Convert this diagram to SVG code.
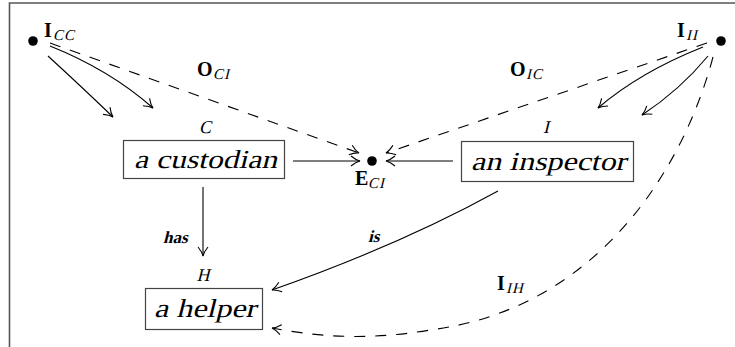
<svg xmlns="http://www.w3.org/2000/svg" width="735" height="347" viewBox="0 0 735 347">
<defs>
<marker id="arr" markerUnits="userSpaceOnUse" markerWidth="20" markerHeight="20" viewBox="-10 -10 20 20" refX="0" refY="0" orient="auto">
<path d="M-9,-5 C-6,-2.5 -2.5,-0.6 0,0 C-2.5,0.6 -6,2.5 -9,5" fill="none" stroke="#000" stroke-width="1.1"/>
</marker>
</defs>
<style>
text{font-family:"Liberation Serif","DejaVu Serif",serif;fill:#000;font-style:normal}
.frame{stroke:#555;stroke-width:1.6;fill:none}
.box{fill:#fff;stroke:#444;stroke-width:1.2}
.bt{font-size:26px}
.lab{font-size:18px}
.bold{font-weight:bold;font-size:20px}
.sub{font-size:15px;letter-spacing:1px}
.bi{font-weight:bold;font-size:17px}
.c{fill:none;stroke:#000;stroke-width:1.1;marker-end:url(#arr)}
.d{stroke-dasharray:11 10}
</style>
<path class="frame" d="M9.5,347 V3 H735"/>
<g id="connectors">
<path class="c" d="M48,56 Q85,90 113,117"/>
<path class="c" d="M50,46 Q110,70 153,108"/>
<path class="c d" d="M50,43 L359,153"/>
<path class="c" d="M293,161 L360,161"/>
<path class="c" d="M453,161 L386,161"/>
<path class="c d" d="M707,43 L386,153"/>
<path class="c" d="M703,47 Q640,72 598,108"/>
<path class="c" d="M708,56 Q680,90 642,115"/>
<path class="c" d="M203,187 L203,256"/>
<path class="c" d="M498,191 Q400,245 272,290"/>
<path class="c d" d="M713,57 C680,180 590,310 430,330 C360,342 310,335 272,328"/>
</g>
<g id="Icc">
<circle cx="33" cy="41" r="4.8" fill="#000"/>
<text class="bold" x="44" y="37">I</text>
<text class="sub" transform="translate(53,40) skewX(-14)">CC</text>
</g>
<g id="Iii">
<circle cx="721" cy="41" r="4.8" fill="#000"/>
<text class="bold" x="677" y="37">I</text>
<text class="sub" transform="translate(686,40) skewX(-14)">II</text>
</g>
<g id="Eci">
<circle cx="372" cy="161" r="4.8" fill="#000"/>
<text class="bold" x="355" y="185">E</text>
<text class="sub" transform="translate(368,188) skewX(-14)">CI</text>
</g>
<g id="Oci">
<text class="bold" x="197" y="76">O</text>
<text class="sub" transform="translate(213,79) skewX(-14)">CI</text>
</g>
<g id="Oic">
<text class="bold" x="510" y="76">O</text>
<text class="sub" transform="translate(526,79) skewX(-14)">IC</text>
</g>
<g id="Iih">
<text class="bold" x="497" y="290">I</text>
<text class="sub" transform="translate(506,293) skewX(-14)">IH</text>
</g>
<g id="custodian">
<text class="lab" transform="translate(205,133) skewX(-14)" text-anchor="middle">C</text>
<rect class="box" x="123.5" y="140.5" width="161" height="38"/>
<text class="bt" transform="translate(134,168) skewX(-14)" textLength="143" lengthAdjust="spacingAndGlyphs">a custodian</text>
</g>
<g id="inspector">
<text class="lab" transform="translate(546,133) skewX(-14)" text-anchor="middle">I</text>
<rect class="box" x="461.5" y="141.5" width="172" height="40"/>
<text class="bt" transform="translate(471,170) skewX(-14)" textLength="155" lengthAdjust="spacingAndGlyphs">an inspector</text>
</g>
<g id="helper">
<text class="lab" transform="translate(203,281) skewX(-14)" text-anchor="middle">H</text>
<rect class="box" x="145.5" y="288.5" width="117" height="41"/>
<text class="bt" transform="translate(154,317) skewX(-14)" textLength="102" lengthAdjust="spacingAndGlyphs">a helper</text>
</g>
<g id="labels">
<text class="bi" transform="translate(163,243) skewX(-14)">has</text>
<text class="bi" transform="translate(368,242) skewX(-14)">is</text>
</g>
</svg>
